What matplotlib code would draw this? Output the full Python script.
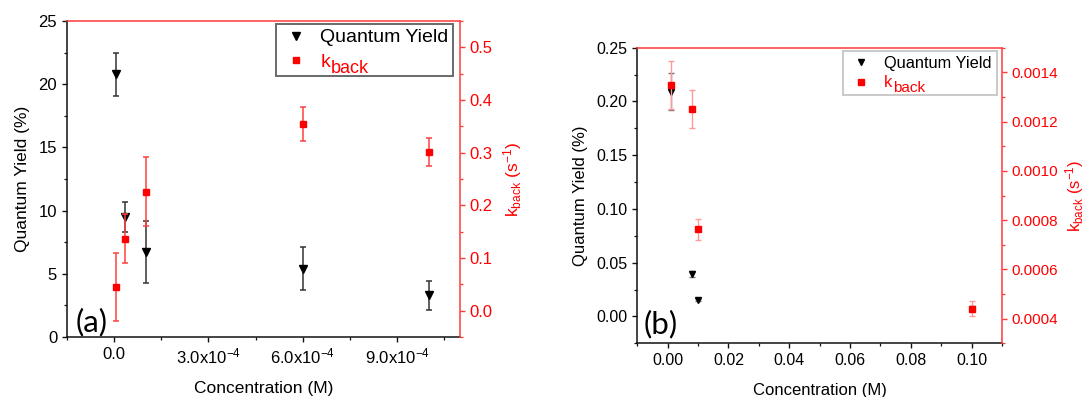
import matplotlib
matplotlib.use("Agg")
import matplotlib.pyplot as plt
from matplotlib.ticker import MultipleLocator, FormatStrFormatter
from matplotlib.lines import Line2D
from matplotlib.transforms import IdentityTransform

plt.rcParams['font.family'] = ['Liberation Sans', 'DejaVu Sans']
plt.rcParams['mathtext.fontset'] = 'custom'
plt.rcParams['mathtext.rm'] = 'Liberation Sans'
plt.rcParams['mathtext.it'] = 'Liberation Sans:italic'
plt.rcParams['mathtext.bf'] = 'Liberation Sans:bold'

# ---- panel (a): low concentration range ----
conc_a = [5e-6, 3.3e-5, 1.0e-4, 6.0e-4, 1.0e-3]
qy_a = [20.8, 9.5, 6.7, 5.4, 3.3]
qy_err_a = [1.7, 1.2, 2.45, 1.7, 1.15]
kb_a = [0.045, 0.137, 0.226, 0.355, 0.301]
kb_err_a = [0.064, 0.046, 0.066, 0.032, 0.027]

# ---- panel (b): high concentration range ----
conc_b = [0.001, 0.008, 0.010, 0.100]
qy_b = [0.209, 0.0395, 0.0152, 0.0072]
qy_err_b = [0.017, 0.003, 0.001, 0.001]
kb_b = [0.00135, 0.00125, 0.000762, 0.000440]
kb_err_b = [0.000097, 0.000077, 0.000041, 0.000031]

xticks_a = [0.0, 3e-4, 6e-4, 9e-4]
xtick_labels_a = ['0.0', '3.0x10$^{-4}$', '6.0x10$^{-4}$', '9.0x10$^{-4}$']
legend_labels = ['Quantum Yield', 'k']
legend_sub = 'back'

RED = '#ff0000'
W, H = 1089, 397
fig = plt.figure(figsize=(W / 100, H / 100), dpi=100)


def frac(l, r, t, b):
    return [l / W, 1 - b / H, (r - l) / W, (b - t) / H]


def style_axes(ax, ax2, ts, ts2, tick_len=3.6):
    ax.spines['top'].set_visible(False)
    ax.spines['right'].set_visible(False)
    ax2.spines['left'].set_visible(False)
    ax2.spines['bottom'].set_visible(False)
    ax2.spines['right'].set_color('#ff3a3a')
    ax2.spines['top'].set_color('#ff3a3a')
    for s in ('left', 'bottom'):
        ax.spines[s].set_linewidth(1.1)
        ax.spines[s].set_color('#111111')
    for s in ('right', 'top'):
        ax2.spines[s].set_linewidth(1.1)
    ax.tick_params(which='major', direction='out', length=tick_len, width=1.0,
                   labelsize=ts, color='#111111', top=False, right=False)
    ax.tick_params(which='minor', direction='out', length=2.2, width=0.9,
                   color='#111111', top=False, right=False)
    ax2.tick_params(which='major', direction='out', length=tick_len, width=1.0,
                    labelsize=ts2, colors=RED, color='#ff3a3a')
    ax2.tick_params(which='minor', direction='out', length=2.2, width=0.9,
                    color='#ff3a3a')


# ================= panel (a) =================
ax = fig.add_axes(frac(67, 460, 21, 337))
ax2 = ax.twinx()
ax.errorbar(conc_a, qy_a, yerr=qy_err_a, fmt='v', color='black', ms=6.4,
            ecolor='#333333', elinewidth=1.1, capsize=2.2, capthick=1.1, zorder=3)
ax2.errorbar(conc_a, kb_a, yerr=kb_err_a, fmt='s', color=RED, ms=4.5,
             ecolor='#ff4040', elinewidth=1.1, capsize=2.2, capthick=1.1, zorder=3)
ax.set_xlim(-1.5e-4, 1.1e-3)
ax.set_ylim(0, 25)
ax2.set_ylim(-0.05, 0.55)
ax.set_xticks(xticks_a)
ax.set_xticklabels(xtick_labels_a)
ax.xaxis.set_minor_locator(MultipleLocator(1.5e-4))
ax.yaxis.set_major_locator(MultipleLocator(5))
ax.yaxis.set_minor_locator(MultipleLocator(2.5))
ax2.yaxis.set_major_locator(MultipleLocator(0.1))
ax2.yaxis.set_minor_locator(MultipleLocator(0.05))
ax2.yaxis.set_major_formatter(FormatStrFormatter('%.1f'))
style_axes(ax, ax2, 12, 12)
ax.set_xlabel('Concentration (M)', fontsize=12.5, labelpad=10)
ax.set_ylabel('Quantum Yield (%)', fontsize=12.5, labelpad=6)
ax2.set_ylabel(r'k$_{\mathrm{back}}$ (s$^{-1}$)', fontsize=12.5, color=RED, labelpad=6)
ax.text(0.023, 0.017, '(a)', transform=ax.transAxes, fontsize=22.5,
        family=['Lato', 'DejaVu Sans'], va='baseline', ha='left')

handles = [Line2D([], [], ls='none', marker='v', color='black', ms=6.4),
           Line2D([], [], ls='none', marker='s', color=RED, ms=4.5)]
leg = ax2.legend(handles, legend_labels,
                 loc='upper left', bbox_to_anchor=(0.533, 0.9905), borderaxespad=0,
                 fontsize=14, frameon=True, fancybox=False, borderpad=0.25,
                 handlelength=1.5, handletextpad=0.5, labelspacing=0.35)
leg.get_frame().set_edgecolor('#444444')
leg.get_frame().set_linewidth(1.4)
leg.get_texts()[1].set_color(RED)

# ================= panel (b) =================
bx = fig.add_axes(frac(637.3, 1002, 47.7, 343.3))
bx2 = bx.twinx()
bx.errorbar(conc_b, qy_b, yerr=qy_err_b, fmt='v', color='black', ms=5.0,
            ecolor='#777777', elinewidth=1.0, capsize=2.0, capthick=1.0, zorder=3)
bx2.errorbar(conc_b, kb_b, yerr=kb_err_b, fmt='s', color=RED, ms=3.8,
             ecolor='#ff9a9a', elinewidth=1.0, capsize=2.0, capthick=1.0, zorder=3)
bx.set_xlim(-0.01, 0.11)
bx.set_ylim(-0.025, 0.25)
bx2.set_ylim(0.0003, 0.0015)
bx.xaxis.set_major_locator(MultipleLocator(0.02))
bx.xaxis.set_minor_locator(MultipleLocator(0.01))
bx.xaxis.set_major_formatter(FormatStrFormatter('%.2f'))
bx.yaxis.set_major_locator(MultipleLocator(0.05))
bx.yaxis.set_minor_locator(MultipleLocator(0.025))
bx.yaxis.set_major_formatter(FormatStrFormatter('%.2f'))
bx2.yaxis.set_major_locator(MultipleLocator(0.0002))
bx2.yaxis.set_minor_locator(MultipleLocator(0.0001))
bx2.yaxis.set_major_formatter(FormatStrFormatter('%.4f'))
style_axes(bx, bx2, 11.5, 11)
bx.set_xlabel('Concentration (M)', fontsize=12, labelpad=11)
bx.set_ylabel('Quantum Yield (%)', fontsize=12, labelpad=6)
bx2.set_ylabel(r'k$_{\mathrm{back}}$ (s$^{-1}$)', fontsize=12, color=RED, labelpad=3)
bx.text(0.016, 0.034, '(b)', transform=bx.transAxes, fontsize=22.5,
        family=['Lato', 'DejaVu Sans'], va='baseline', ha='left')

handles_b = [Line2D([], [], ls='none', marker='v', color='black', ms=5.0),
             Line2D([], [], ls='none', marker='s', color=RED, ms=3.8)]
leg_b = bx2.legend(handles_b, legend_labels,
                   loc='upper left', bbox_to_anchor=(0.565, 0.990), borderaxespad=0,
                   fontsize=11.8, frameon=True, fancybox=False, borderpad=0.3,
                   handlelength=1.6, handletextpad=0.6, labelspacing=0.3)
leg_b.get_frame().set_edgecolor('#bbbbbb')
leg_b.get_frame().set_linewidth(1.4)
leg_b.get_texts()[1].set_color(RED)

# large lowered subscript after the "k" legend entry
fig.canvas.draw()
renderer = fig.canvas.get_renderer()
for lg, size, drop in ((leg, 13.0, 6.6), (leg_b, 11.0, 4.5)):
    t = lg.get_texts()[1]
    bb = t.get_window_extent(renderer)
    fig.text(bb.x1 + 0.5, bb.y0 - drop, legend_sub, transform=IdentityTransform(),
             fontsize=size, color=RED, va='bottom', ha='left', zorder=10)

fig.savefig('out.png', dpi=100)
